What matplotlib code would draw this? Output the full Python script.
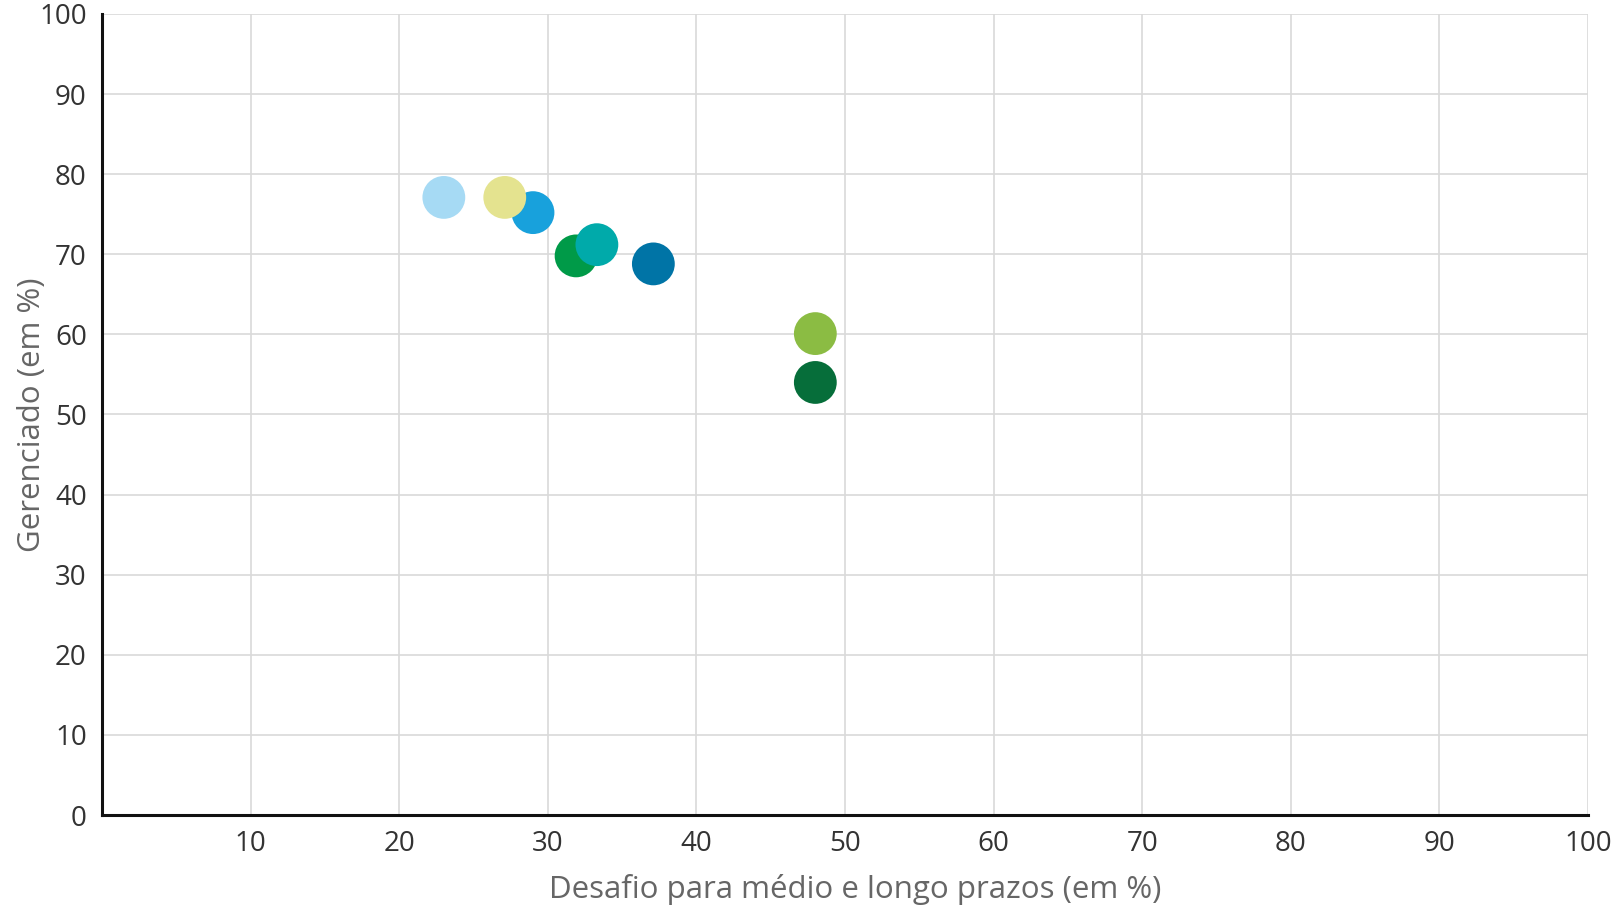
import matplotlib
matplotlib.use("Agg")
import matplotlib.pyplot as plt

plt.rcParams['font.family'] = ['Open Sans', 'DejaVu Sans']

# desafio (x) vs gerenciado (y), in %
desafio = [29.0, 23.0, 27.1, 31.9, 33.3, 37.1, 48.0, 48.0]
gerenciado = [75.2, 77.1, 77.1, 69.8, 71.2, 68.8, 60.1, 54.0]
cores = ["#18A1DC", "#A6DAF4", "#E4E38F", "#009A48", "#00AAAA", "#0074A6", "#8BBC43", "#066E3A"]

x_ticks = list(range(10, 101, 10))
y_ticks = list(range(0, 101, 10))

fig = plt.figure(figsize=(16.15, 9.07), dpi=100)
ax = fig.add_axes([0.0632, 0.1014, 0.9201, 0.8832])

ax.scatter(desafio, gerenciado, s=950, c=cores, linewidths=0, zorder=3)

ax.set_xlim(0, 100)
ax.set_ylim(0, 100)
ax.set_xticks(x_ticks)
ax.set_yticks(y_ticks)
ax.grid(True, color="#d9d9d9", linewidth=1.2, zorder=0)
ax.set_axisbelow(True)

for s in ("top", "right"):
    ax.spines[s].set_visible(False)
for s in ("left", "bottom"):
    ax.spines[s].set_linewidth(2.2)
    ax.spines[s].set_color("#111111")
    ax.spines[s].set_zorder(4)

ax.tick_params(length=0, labelsize=20, labelcolor="#333333")
ax.tick_params(axis="x", pad=11)
ax.tick_params(axis="y", pad=11)

ax.set_xlabel("Desafio para médio e longo prazos (em %)", fontsize=22.5, color="#666666", labelpad=11.5)
ax.xaxis.label.set_x(0.507)
ax.set_ylabel("Gerenciado (em %)", fontsize=22.5, color="#666666")
ax.yaxis.set_label_coords(-0.037, 0.5)

fig.savefig("out.png", dpi=100)
